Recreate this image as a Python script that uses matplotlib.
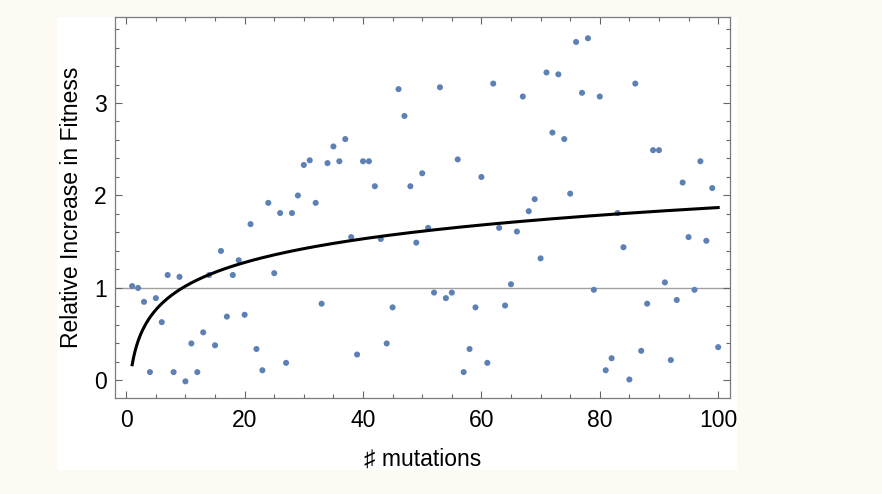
import numpy as np
import matplotlib
matplotlib.use("Agg")
import matplotlib.pyplot as plt
from matplotlib.patches import Rectangle
from matplotlib.ticker import MultipleLocator

plt.rcParams['font.family'] = ['Liberation Sans', 'DejaVu Sans']

# number of mutations and measured relative fitness increase
mutations = np.arange(1, 101)
fitness = [
    1.02, 1.00, 0.85, 0.09, 0.89, 0.63, 1.14, 0.09, 1.12, -0.01,
    0.40, 0.09, 0.52, 1.14, 0.38, 1.40, 0.69, 1.14, 1.30, 0.71,
    1.69, 0.34, 0.11, 1.92, 1.16, 1.81, 0.19, 1.81, 2.00, 2.33,
    2.38, 1.92, 0.83, 2.35, 2.53, 2.37, 2.61, 1.55, 0.28, 2.37,
    2.37, 2.10, 1.53, 0.40, 0.79, 3.15, 2.86, 2.10, 1.49, 2.24,
    1.65, 0.95, 3.17, 0.89, 0.95, 2.39, 0.09, 0.34, 0.79, 2.20,
    0.19, 3.21, 1.65, 0.81, 1.04, 1.61, 3.07, 1.83, 1.96, 1.32,
    3.33, 2.68, 3.31, 2.61, 2.02, 3.66, 3.11, 3.70, 0.98, 3.07,
    0.11, 0.24, 1.81, 1.44, 0.01, 3.21, 0.32, 0.83, 2.49, 2.49,
    1.06, 0.22, 0.87, 2.14, 1.55, 0.98, 2.37, 1.51, 2.08, 0.36,
]

# log fit: a + b*log(n)
fit_a = 0.17
fit_b = 0.369

fig = plt.figure(figsize=(8.82, 4.94), dpi=100)
fig.patch.set_facecolor('#fdf9f3')
# white panel behind the plot
fig.patches.append(Rectangle((57 / 882, 1 - 470 / 494), 680 / 882, 453 / 494,
                             transform=fig.transFigure, facecolor='white',
                             edgecolor='none', zorder=-10))

ax = fig.add_axes([115 / 882, 1 - 398 / 494, 615 / 882, 381 / 494])
ax.set_facecolor('white')

ax.axhline(1, color='#a0a0a0', lw=1.0, zorder=1)
ax.scatter(mutations, fitness, s=19, color='#5e81b5', edgecolors='none', zorder=2)

xs = np.linspace(1, 100, 400)
ax.plot(xs, fit_a + fit_b * np.log(xs), color='black', lw=2.2, zorder=3)

ax.set_xlim(-1.9, 102)
ax.set_ylim(-0.19, 3.93)

ax.xaxis.set_major_locator(MultipleLocator(20))
ax.xaxis.set_minor_locator(MultipleLocator(5))
ax.yaxis.set_major_locator(MultipleLocator(1))
ax.yaxis.set_minor_locator(MultipleLocator(0.2))
ax.tick_params(which='both', direction='in', top=True, right=True,
               color='#666666', width=0.8, labelsize=16.5)
ax.tick_params(which='major', length=5)
ax.tick_params(which='minor', length=3)
ax.tick_params(axis='x', pad=8)
ax.tick_params(axis='y', pad=6)
for sp in ax.spines.values():
    sp.set_color('#7a7a7a')
    sp.set_linewidth(0.9)

ax.set_xlabel('\u266f mutations', fontsize=16.5, labelpad=11)
ax.set_ylabel('Relative Increase in Fitness', fontsize=16.5, labelpad=8)

fig.savefig('out.png', dpi=100, facecolor=fig.get_facecolor())
